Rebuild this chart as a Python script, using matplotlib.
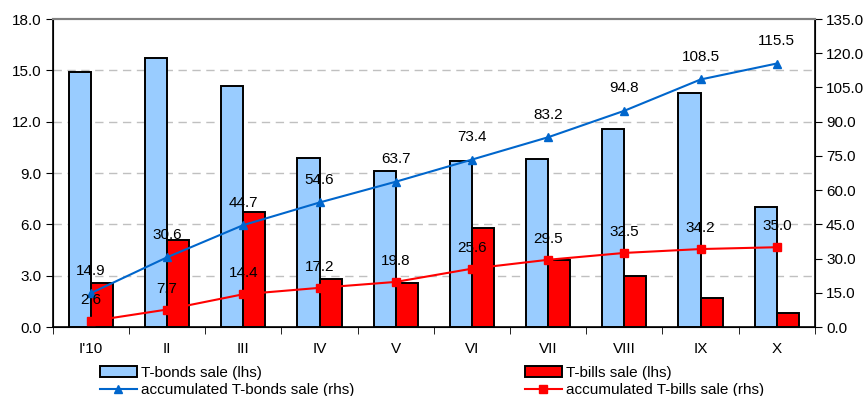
import matplotlib.pyplot as plt
import numpy as np

plt.rcParams['font.family'] = ['Liberation Sans', 'DejaVu Sans']

months = ["I'10", 'II', 'III', 'IV', 'V', 'VI', 'VII', 'VIII', 'IX', 'X']
bonds_sale = [14.9, 15.7, 14.1, 9.9, 9.1, 9.7, 9.8, 11.6, 13.7, 7.0]
bills_sale = [2.6, 5.1, 6.7, 2.8, 2.6, 5.8, 3.9, 3.0, 1.7, 0.8]
bonds_acc = [14.9, 30.6, 44.7, 54.6, 63.7, 73.4, 83.2, 94.8, 108.5, 115.5]
bills_acc = [2.6, 7.7, 14.4, 17.2, 19.8, 25.6, 29.5, 32.5, 34.2, 35.0]

fs = 11

fig = plt.figure(figsize=(8.66, 3.96), dpi=100)
ax = fig.add_axes([0.061, 0.174, 0.880, 0.778])
ax2 = ax.twinx()

x = np.arange(len(months))
w = 0.29
b1 = ax.bar(x - w / 2, bonds_sale, w, color='#99CCFF', edgecolor='black', linewidth=1.4, zorder=3)
b2 = ax.bar(x + w / 2, bills_sale, w, color='#FF0000', edgecolor='black', linewidth=1.4, zorder=3)

l1, = ax2.plot(x, bonds_acc, color='#0066CC', marker='^', markersize=6, linewidth=1.5)
l2, = ax2.plot(x, bills_acc, color='#FF0000', marker='s', markersize=6, linewidth=1.5)

for xi, v in zip(x, bonds_acc):
    ax2.annotate(f'{v:.1f}', (xi, v), xytext=(0, 11), textcoords='offset points',
                 ha='center', va='bottom', fontsize=fs)
for xi, v in zip(x, bills_acc):
    ax2.annotate(f'{v:.1f}', (xi, v), xytext=(0, 10), textcoords='offset points',
                 ha='center', va='bottom', fontsize=fs)

ax.set_xlim(-0.5, len(months) - 0.5)
ax.set_ylim(0, 18)
ax.set_yticks(np.arange(0, 18.1, 3))
ax.set_yticklabels([f'{t:.1f}' for t in np.arange(0, 18.1, 3)])
ax2.set_ylim(0, 135)
ax2.set_yticks(np.arange(0, 135.1, 15))
ax2.set_yticklabels([f'{t:.1f}' for t in np.arange(0, 135.1, 15)])

for t in np.arange(3, 16, 3):
    ax.axhline(t, color='#C0C0C0', linestyle=(0, (6, 4)), linewidth=1, zorder=1)

ax.set_xticks(x)
ax.set_xticklabels(months)
ax.set_xticks(np.arange(-0.5, len(months)), minor=True)
ax.tick_params(axis='x', which='major', length=0, pad=11, labelsize=fs)
ax.tick_params(axis='x', which='minor', length=5, direction='out')
ax.tick_params(axis='y', length=5, labelsize=fs, pad=3)
ax2.tick_params(axis='y', length=5, labelsize=fs, pad=3)

for a in (ax, ax2):
    a.spines['top'].set_color('#808080')
    a.spines['top'].set_linewidth(1.5)
ax.spines['left'].set_linewidth(1.2)
ax.spines['bottom'].set_linewidth(1.2)
ax2.spines['right'].set_linewidth(1.2)

fig.legend([b1, l1, b2, l2],
           ['T-bonds sale (lhs)', 'accumulated T-bonds sale (rhs)',
            'T-bills sale (lhs)', 'accumulated T-bills sale (rhs)'],
           ncol=2, mode='expand', frameon=False, fontsize=fs,
           bbox_to_anchor=(0.1155, 0.077, 0.767, 0.0), loc='upper left',
           borderaxespad=0, borderpad=0, handlelength=2.4, handletextpad=0.3,
           labelspacing=0.23)

fig.savefig('out.png')
